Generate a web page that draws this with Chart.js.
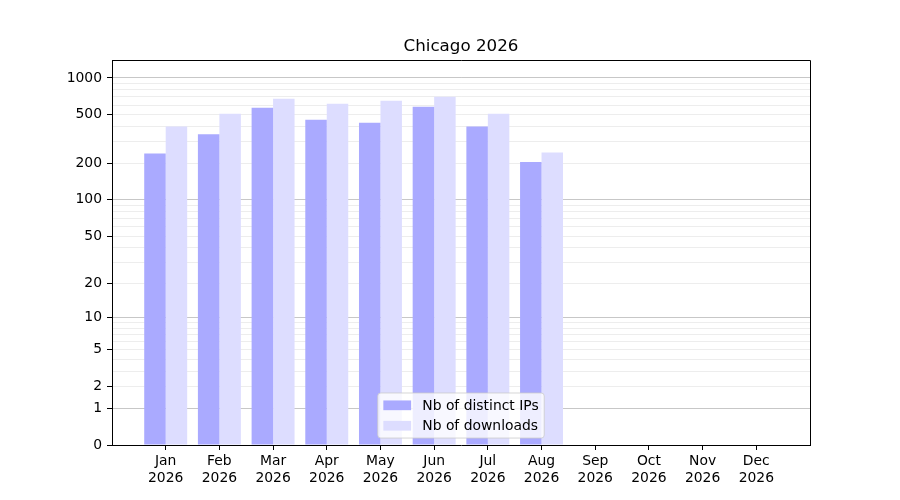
<!DOCTYPE html>
<html>
<head>
<meta charset="utf-8">
<script src="https://cdn.jsdelivr.net/npm/chart.js@4.4.1/dist/chart.umd.min.js"></script>
<style>
  html, body { margin: 0; padding: 0; background: #fff; }
</style>
</head>
<body>
<canvas id="chart" width="900" height="500"></canvas>
<script>
// données du graphique
const months = ['Jan', 'Feb', 'Mar', 'Apr', 'May', 'Jun', 'Jul', 'Aug', 'Sep', 'Oct', 'Nov', 'Dec'];
const year = '2026';
const distinctIps = [240, 345, 570, 455, 430, 580, 400, 205];
const downloads = [400, 510, 675, 615, 650, 700, 510, 245];
const yLabelTicks = [0, 1, 2, 5, 10, 20, 50, 100, 200, 500, 1000];
const yGridTicks = [0, 1, 2, 3, 4, 5, 6, 7, 8, 9, 10, 20, 30, 40, 50, 60, 70, 80, 90,
                    100, 200, 300, 400, 500, 600, 700, 800, 900, 1000];
const yMajorTicks = [1, 10, 100, 1000];
const yMax = 1400;

const f = v => Math.log10(v + 1);
const fInv = t => Math.pow(10, t) - 1;

// échelle log10(x + 1)
class Log1pScale extends Chart.Scale {
    static id = 'log1p';
    static defaults = {};

    determineDataLimits() {
        this.min = this.options.min ?? 0;
        this.max = this.options.max ?? 1000;
    }
    buildTicks() {
        return yGridTicks.map(v => ({ value: v }));
    }
    getLabelForValue(value) {
        return String(value);
    }
    configure() {
        super.configure();
        this._startValue = f(this.min);
        this._valueRange = f(this.max) - f(this.min);
    }
    getPixelForValue(value) {
        return this.getPixelForDecimal((f(value) - this._startValue) / this._valueRange);
    }
    getValueForPixel(pixel) {
        return fInv(this._startValue + this.getDecimalForPixel(pixel) * this._valueRange);
    }
}
Chart.register(Log1pScale);

Chart.defaults.font.family = '"DejaVu Sans", sans-serif';
Chart.defaults.color = '#000';

// cadre + légende façon matplotlib
const frameAndLegend = {
    id: 'frameAndLegend',
    afterDraw(chart) {
        const { ctx, chartArea: a } = chart;
        ctx.save();
        ctx.strokeStyle = '#000';
        ctx.lineWidth = 1;
        ctx.beginPath();
        ctx.moveTo(a.left, Math.round(a.top) + 0.5);
        ctx.lineTo(Math.round(a.right) + 0.5, Math.round(a.top) + 0.5);
        ctx.lineTo(Math.round(a.right) + 0.5, a.bottom);
        ctx.stroke();

        const fs = 13.9;
        ctx.font = fs + 'px "DejaVu Sans"';
        const items = chart.data.datasets.map(d => ({ text: d.label, color: d.backgroundColor }));
        const pad = 0.4 * fs, handle = 2 * fs, gap = 0.8 * fs, rowH = 0.97 * fs, spacing = 0.5 * fs;
        const textW = Math.max(...items.map(i => ctx.measureText(i.text).width));
        const w = pad * 2 + handle + gap + textW;
        const h = pad * 2 + items.length * rowH + (items.length - 1) * spacing;
        const x = (a.left + a.right) / 2 - w / 2;
        const y = a.bottom - 0.5 * fs - h;
        const r = 3;

        ctx.beginPath();
        ctx.moveTo(x + r, y);
        ctx.lineTo(x + w - r, y);
        ctx.arcTo(x + w, y, x + w, y + r, r);
        ctx.lineTo(x + w, y + h - r);
        ctx.arcTo(x + w, y + h, x + w - r, y + h, r);
        ctx.lineTo(x + r, y + h);
        ctx.arcTo(x, y + h, x, y + h - r, r);
        ctx.lineTo(x, y + r);
        ctx.arcTo(x, y, x + r, y, r);
        ctx.closePath();
        ctx.fillStyle = 'rgba(255,255,255,0.8)';
        ctx.fill();
        ctx.strokeStyle = 'rgba(204,204,204,0.8)';
        ctx.stroke();

        ctx.textBaseline = 'middle';
        ctx.textAlign = 'left';
        items.forEach((it, i) => {
            const cy = y + pad + rowH / 2 + i * (rowH + spacing);
            ctx.fillStyle = it.color;
            ctx.fillRect(x + pad, cy - 0.35 * fs, handle, 0.7 * fs);
            ctx.fillStyle = '#000';
            ctx.fillText(it.text, x + pad + handle + gap, cy + 1);
        });
        ctx.restore();
    }
};

new Chart(document.getElementById('chart'), {
    type: 'bar',
    data: {
        datasets: [
            {
                label: 'Nb of distinct IPs',
                data: distinctIps.map((v, i) => ({ x: i, y: v })),
                backgroundColor: '#aaaaff',
                borderWidth: 0
            },
            {
                label: 'Nb of downloads',
                data: downloads.map((v, i) => ({ x: i, y: v })),
                backgroundColor: '#ddddff',
                borderWidth: 0
            }
        ]
    },
    options: {
        responsive: false,
        animation: false,
        devicePixelRatio: 1,
        categoryPercentage: 0.8,
        barPercentage: 1.0,
        layout: { padding: { left: 0, right: 90, top: 0, bottom: 0 } },
        plugins: {
            legend: { display: false },
            tooltip: { enabled: false },
            title: {
                display: true,
                text: 'Chicago ' + year,
                fullSize: false,
                color: '#000',
                font: { size: 16.7, weight: 'normal' },
                padding: { top: 37, bottom: 3 }
            }
        },
        scales: {
            x: {
                type: 'linear',
                min: -1,
                max: 12,
                offset: false,
                z: 1,
                afterBuildTicks: scale => { scale.ticks = months.map((m, i) => ({ value: i })); },
                afterFit: scale => { scale.height = 55; },
                grid: { offset: false, drawOnChartArea: false, drawTicks: true, tickLength: 5, tickColor: '#000' },
                border: { display: true, color: '#000', width: 1 },
                ticks: {
                    autoSkip: false,
                    maxRotation: 0,
                    padding: 3,
                    font: { size: 13.9 },
                    callback: v => [months[v], year]
                }
            },
            y: {
                type: 'log1p',
                position: 'left',
                min: 0,
                max: yMax,
                z: 1,
                afterFit: scale => { scale.width = 112; },
                grid: {
                    drawTicks: true,
                    tickLength: 5,
                    color: ctx => {
                        const v = ctx.tick ? ctx.tick.value : 0;
                        if (v === 0) return 'rgba(0,0,0,0)';
                        return yMajorTicks.includes(v) ? 'rgba(0,0,0,0.22)' : 'rgba(0,0,0,0.07)';
                    },
                    tickColor: ctx => (ctx.tick && yLabelTicks.includes(ctx.tick.value)) ? '#000' : 'rgba(0,0,0,0)'
                },
                border: { display: true, color: '#000', width: 1 },
                ticks: {
                    autoSkip: false,
                    padding: 5,
                    font: { size: 13.9 },
                    callback: v => yLabelTicks.includes(v) ? String(v) : ''
                }
            }
        }
    },
    plugins: [frameAndLegend]
});
</script>
</body>
</html>
